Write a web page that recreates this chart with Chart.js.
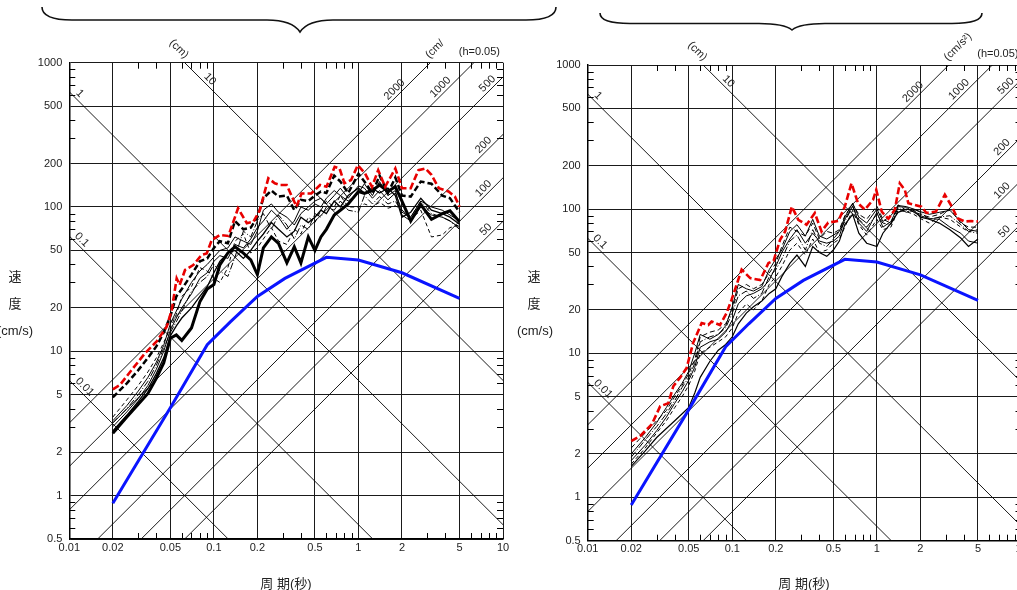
<!DOCTYPE html>
<html>
<head>
<meta charset="utf-8">
<title>速度応答スペクトル</title>
<script src="https://cdn.jsdelivr.net/npm/chart.js@4.4.1/dist/chart.umd.min.js"></script>
<style>
    html, body { margin: 0; padding: 0; background: #fff; }
    body { position: relative; width: 1017px; height: 590px; overflow: hidden; }
    canvas { position: absolute; top: 0; }
    #leftChart { left: 0; }
    #rightChart { left: 500px; }
    .title {
        position: absolute;
        transform: translate(-50%, -50%);
        font-family: "Liberation Sans", "Noto Sans CJK JP", sans-serif;
        font-size: 13px;
        color: #222;
        white-space: nowrap;
    }
</style>
</head>
<body>
<canvas id="leftChart" width="560" height="590"></canvas>
<canvas id="rightChart" width="540" height="590"></canvas>

<div class="title" style="left:15px;top:275px">速</div>
<div class="title" style="left:15px;top:302px">度</div>
<div class="title" style="left:15px;top:330px">(cm/s)</div>
<div class="title" style="left:286px;top:582px">周 期(秒)</div>

<div class="title" style="left:534px;top:275px">速</div>
<div class="title" style="left:534px;top:302px">度</div>
<div class="title" style="left:535px;top:330px">(cm/s)</div>
<div class="title" style="left:804px;top:582px">周 期(秒)</div>

<script>
// axis ticks
const xTicks = [0.01, 0.02, 0.05, 0.1, 0.2, 0.5, 1, 2, 5, 10];
const yTicks = [0.5, 1, 2, 5, 10, 20, 50, 100, 200, 500, 1000];

// tripartite reference lines: displacement (cm) and acceleration (cm/s2)
const dispLines = [0.01, 0.1, 1, 10];
const accLines = [50, 100, 200, 500, 1000, 2000];

// design spectrum (blue), same on both panels
const designT = [0.02, 0.05, 0.09, 0.13, 0.2, 0.31, 0.6, 1.0, 2.0, 5.0];
const designV = [0.885, 4.06, 11.1, 16.0, 24, 32.0, 44.8, 42.9, 35.0, 23.3];

// envelope (red dashed), left panel
const redLeftT = [0.02, 0.0224, 0.027, 0.0334, 0.0402, 0.0472, 0.0511, 0.0553, 0.058, 0.0632, 0.072, 0.0822,
    0.0892, 0.0967, 0.11, 0.126, 0.147, 0.169, 0.188, 0.208, 0.238, 0.264, 0.287, 0.319, 0.373, 0.404,
    0.472, 0.543, 0.601, 0.685, 0.74, 0.8, 0.89, 0.99, 1.11, 1.24, 1.37, 1.53, 1.8, 2.0, 2.3, 2.6, 2.9,
    3.2, 3.6, 4.2, 4.65, 5.0];
const redLeftV = [5.45, 5.84, 7.42, 9.69, 11.7, 14.8, 19.3, 32.0, 28.8, 36.6, 39.6, 46.5,
    47.7, 59.0, 64.0, 63.0, 98.0, 77.2, 79.2, 95.3, 158, 146, 142, 142, 100.5, 124,
    124, 142, 138, 190, 185, 146, 154, 195, 171, 138, 180, 138, 185, 135, 135, 180, 185,
    167, 135, 128, 118, 100.5];

// envelope (red dashed), right panel
const redRightT = [0.02, 0.023, 0.0277, 0.0317, 0.0361, 0.0391, 0.0434, 0.0483, 0.0536, 0.0614, 0.0682,
    0.0719, 0.0822, 0.0913, 0.099, 0.116, 0.133, 0.156, 0.178, 0.193, 0.214, 0.232, 0.258, 0.286, 0.326,
    0.372, 0.414, 0.46, 0.54, 0.6, 0.667, 0.74, 0.825, 0.94, 0.99, 1.08, 1.2, 1.33, 1.44, 1.56, 1.65,
    1.83, 2.03, 2.2, 2.56, 2.95, 3.3, 3.6, 4.05, 4.5, 5.0];
const redRightV = [2.45, 2.66, 3.2, 4.28, 4.5, 5.9, 6.74, 7.9, 11.8, 16.2, 15.7,
    16.6, 15.7, 19.0, 23.6, 38.0, 33.2, 32.2, 42.3, 43.8, 61.3, 70, 104, 84.3, 77.9,
    93.9, 70, 80.6, 82.6, 104, 151, 110, 99, 116, 136, 96, 85.7, 99, 151, 136, 110,
    107, 104, 94, 96, 126, 104, 86.6, 82, 82.6, 82];

// periods shared by the black records
const periods = [0.02, 0.025, 0.03, 0.035, 0.04, 0.045, 0.05, 0.055, 0.06,
    0.07, 0.08, 0.09, 0.1, 0.11, 0.125, 0.14, 0.16, 0.18,
    0.2, 0.22, 0.25, 0.28, 0.32, 0.36, 0.4, 0.45, 0.5,
    0.55, 0.6, 0.68, 0.75, 0.85, 1.0, 1.1, 1.25, 1.4,
    1.6, 1.8, 2.0, 2.3, 2.7, 3.2, 3.8, 4.3, 5.0];

// left panel records
const leftThickSolid = [2.7, 3.5, 4.3, 5.1, 6.5, 8.3, 12.3, 13.0, 11.9,
    14.5, 22, 27, 29, 39.6, 48, 53, 47.9, 43,
    34, 52, 62, 56, 41, 53, 41, 62, 50,
    62, 70, 88, 95, 105, 128, 124, 130, 142,
    128, 138, 110, 80, 104, 82, 90, 94, 79];
const leftThickDash = [4.8, 6.0, 7.4, 9.0, 10.8, 13.5, 17.5, 24, 27,
    34, 42, 44, 52, 58, 56, 80, 70, 72,
    85, 115, 130, 118, 120, 95, 112, 110, 120,
    128, 125, 165, 150, 125, 170, 150, 125, 165,
    125, 160, 120, 118, 150, 145, 120, 115, 92];
const leftThinA = [3.3, 4.2, 5.3, 6.6, 8.4, 11, 15.5, 19, 23,
    30, 36, 40, 45, 50, 52, 62, 58, 55,
    68, 95, 105, 92, 85, 75, 90, 100, 110,
    115, 105, 120, 135, 115, 140, 135, 115, 130,
    112, 125, 95, 85, 110, 100, 95, 88, 80];
const leftThinB = [3.0, 3.8, 4.7, 5.8, 7.5, 10, 14, 17, 20,
    25, 32, 35, 42, 46, 44, 55, 52, 60,
    72, 80, 95, 85, 70, 80, 100, 95, 105,
    100, 115, 130, 120, 110, 125, 145, 120, 150,
    120, 130, 88, 80, 100, 88, 85, 80, 72];
const leftDashed = [3.5, 4.6, 5.8, 7.2, 9.0, 11.5, 14.5, 18, 24,
    28, 38, 36, 32, 30, 38, 58, 65, 48,
    52, 60, 72, 58, 55, 70, 65, 85, 78,
    95, 110, 100, 120, 100, 100, 105, 100, 108,
    98, 102, 95, 82, 95, 62, 64, 72, 75];
const leftDashDot = [3.2, 4.0, 5.0, 6.2, 8.0, 10.5, 13.5, 16, 19,
    26, 30, 33, 40, 36, 33, 45, 68, 62,
    80, 90, 70, 88, 75, 60, 75, 70, 90,
    85, 100, 95, 110, 95, 92, 120, 105, 118,
    105, 110, 92, 85, 110, 90, 85, 80, 70];
const leftThinC = [2.8, 3.6, 4.5, 5.5, 7.0, 9.0, 12.8, 15, 17,
    20, 24, 28, 35, 42, 48, 50, 44, 50,
    58, 65, 78, 70, 62, 68, 85, 78, 85,
    95, 90, 110, 100, 120, 135, 125, 135, 125,
    135, 120, 85, 92, 115, 95, 90, 85, 76];

// right panel records
const rightSolidA = [1.64, 2.1, 2.6, 3.0, 3.4, 3.8, 4.2, 5.3, 6.8,
    8.8, 10.5, 11.5, 13, 16, 19, 21, 23, 26,
    28, 34, 42, 48, 40, 55, 50, 47, 52,
    60, 78, 92, 68, 58, 55, 68, 80, 95,
    100, 98, 88, 85, 80, 72, 63, 55, 62];
const rightDashA = [2.2, 2.8, 3.4, 4.0, 5.0, 6.0, 7.2, 9.0, 13,
    14, 14.5, 16, 20, 28, 30, 28, 30, 36,
    42, 55, 75, 70, 65, 80, 62, 70, 68,
    72, 90, 108, 92, 85, 105, 85, 80, 107,
    98, 96, 92, 88, 92, 100, 80, 75, 75];
const rightSolidB = [1.8, 2.3, 2.9, 3.6, 4.5, 5.4, 6.5, 8.0, 11,
    12, 12.5, 14, 17, 22, 25, 26, 28, 32,
    40, 50, 62, 72, 58, 68, 60, 58, 60,
    65, 85, 105, 80, 70, 95, 75, 82, 104,
    103, 95, 90, 86, 85, 75, 68, 60, 58];
const rightDashDot = [1.9, 2.5, 3.1, 3.8, 4.7, 5.8, 6.8, 8.5, 12,
    13, 13.5, 15, 19, 25, 27, 24, 26, 34,
    38, 45, 60, 66, 52, 72, 58, 55, 62,
    70, 82, 104, 85, 75, 92, 80, 78, 102,
    95, 100, 95, 85, 88, 90, 78, 70, 68];
const rightDashB = [1.7, 2.2, 2.8, 3.4, 4.2, 5.0, 6.0, 7.5, 10,
    11, 12, 13, 15, 19, 22, 20, 23, 30,
    34, 40, 52, 58, 48, 62, 50, 52, 58,
    62, 75, 98, 78, 66, 85, 72, 75, 98,
    96, 92, 86, 80, 88, 85, 75, 70, 72];
const rightSolidC = [2.0, 2.6, 3.3, 4.2, 5.2, 6.2, 7.5, 10, 13.5,
    12.5, 13.5, 15.5, 21, 30, 28, 27, 29, 38,
    45, 52, 70, 78, 65, 85, 65, 62, 66,
    70, 88, 110, 88, 80, 100, 82, 90, 106,
    104, 100, 96, 92, 95, 98, 82, 72, 70];

// where the labels of the reference lines sit (period along each line)
const dispLabelT = [0.012, 0.01145, 0.0111, 0.0883];
const accLabelT = [8.1, 7.8, 7.8, 8.3, 3.93, 1.89];

const minorSteps = [3, 4, 6, 7, 8, 9];
const FONT = '"Liberation Sans", Arial, sans-serif';

Chart.defaults.font.family = FONT;

function toPoints(t, v) {
    return t.map((p, i) => ({ x: p, y: v[i] }));
}

function drawBrace(ctx, b) {
    ctx.save();
    ctx.strokeStyle = '#111';
    ctx.lineWidth = 1.6;
    ctx.beginPath();
    ctx.moveTo(b.x0, b.yTop);
    ctx.quadraticCurveTo(b.x0, b.yMid, b.x0 + 30, b.yMid);
    ctx.lineTo(b.xm - 33, b.yMid);
    ctx.quadraticCurveTo(b.xm - 8, b.yMid, b.xm, b.yTip);
    ctx.quadraticCurveTo(b.xm + 8, b.yMid, b.xm + 33, b.yMid);
    ctx.lineTo(b.x1 - 30, b.yMid);
    ctx.quadraticCurveTo(b.x1, b.yMid, b.x1, b.yTop);
    ctx.stroke();
    ctx.restore();
}

function rotatedText(ctx, text, px, py, angle, align, baseline) {
    ctx.save();
    ctx.translate(px, py);
    ctx.rotate(angle);
    ctx.textAlign = align;
    ctx.textBaseline = baseline;
    ctx.fillText(text, 0, 0);
    ctx.restore();
}

const decorations = {
    id: 'decorations',
    afterDatasetsDraw(chart, args, opts) {
        const { ctx, chartArea: a, scales: { x, y } } = chart;
        ctx.save();

        // minor ticks on all four sides
        ctx.strokeStyle = '#000';
        ctx.lineWidth = 1;
        ctx.beginPath();
        [0.01, 0.1, 1].forEach(dec => {
            minorSteps.forEach(m => {
                const px = Math.round(x.getPixelForValue(m * dec)) + 0.5;
                if (px < a.left || px > a.right) return;
                ctx.moveTo(px, a.top); ctx.lineTo(px, a.top + 6);
                ctx.moveTo(px, a.bottom); ctx.lineTo(px, a.bottom - 6);
            });
        });
        [0.1, 1, 10, 100].forEach(dec => {
            minorSteps.forEach(m => {
                const v = m * dec;
                if (v < 0.5 || v > 1000) return;
                const py = Math.round(y.getPixelForValue(v)) + 0.5;
                ctx.moveTo(a.left, py); ctx.lineTo(a.left + 6, py);
                ctx.moveTo(a.right, py); ctx.lineTo(a.right - 6, py);
            });
        });
        ctx.stroke();

        // labels of the reference lines
        ctx.fillStyle = '#222';
        ctx.font = '11px ' + FONT;
        dispLines.forEach((d, i) => {
            const t = dispLabelT[i];
            rotatedText(ctx, String(d), x.getPixelForValue(t), y.getPixelForValue(2 * Math.PI * d / t) - 1,
                Math.PI / 4, 'center', 'bottom');
        });
        accLines.forEach((acc, i) => {
            const t = accLabelT[i];
            rotatedText(ctx, String(acc), x.getPixelForValue(t), y.getPixelForValue(acc * t / (2 * Math.PI)) - 1,
                -Math.PI / 4, 'center', 'bottom');
        });

        // unit labels outside the frame
        const dTop = x.getPixelForValue(2 * Math.PI * 10 / 1000);
        rotatedText(ctx, '(cm)', dTop + 2, a.top - 6, Math.PI / 4, 'right', 'middle');
        const aTop = x.getPixelForValue(1000 * 2 * Math.PI / 2000);
        rotatedText(ctx, opts.accUnit, aTop - 3, a.top - 6, -Math.PI / 4, 'left', 'middle');

        ctx.textAlign = 'right';
        ctx.textBaseline = 'middle';
        ctx.fillText('(h=0.05)', a.right - 3, a.top - 11);

        drawBrace(ctx, opts.brace);
        ctx.restore();
    }
};

function makeChart(canvasId, redT, redV, records, styles, padding, brace, accUnit) {
    const datasets = [
        { data: toPoints(redT, redV), borderColor: '#e80000', borderWidth: 2.6, borderDash: [7, 3] },
        { data: toPoints(designT, designV), borderColor: '#0a14ff', borderWidth: 3 }
    ];
    records.forEach((vals, i) => {
        datasets.push({
            data: toPoints(periods, vals),
            borderColor: '#000',
            borderWidth: styles[i].width,
            borderDash: styles[i].dash
        });
    });
    dispLines.forEach(d => {
        datasets.push({
            data: [{ x: 0.01, y: 2 * Math.PI * d / 0.01 }, { x: 10, y: 2 * Math.PI * d / 10 }],
            borderColor: '#000', borderWidth: 0.9
        });
    });
    accLines.forEach(acc => {
        datasets.push({
            data: [{ x: 0.01, y: acc * 0.01 / (2 * Math.PI) }, { x: 10, y: acc * 10 / (2 * Math.PI) }],
            borderColor: '#000', borderWidth: 0.9
        });
    });

    return new Chart(document.getElementById(canvasId), {
        type: 'line',
        data: { datasets: datasets },
        plugins: [decorations],
        options: {
            responsive: false,
            animation: false,
            events: [],
            layout: { padding: padding },
            elements: {
                point: { radius: 0 },
                line: { tension: 0, fill: false }
            },
            plugins: {
                legend: { display: false },
                tooltip: { enabled: false },
                decorations: { brace: brace, accUnit: accUnit }
            },
            scales: {
                x: {
                    type: 'logarithmic',
                    min: 0.01,
                    max: 10,
                    grid: { color: '#1a1a1a', lineWidth: 1, drawTicks: false },
                    border: { color: '#000', width: 1.5 },
                    ticks: {
                        autoSkip: false, maxRotation: 0, padding: 2, color: '#222',
                        font: { size: 11 },
                        callback: v => String(v)
                    },
                    afterBuildTicks: s => { s.ticks = xTicks.map(v => ({ value: v })); },
                    afterFit: s => { s.height = 25; }
                },
                y: {
                    type: 'logarithmic',
                    min: 0.5,
                    max: 1000,
                    grid: { color: '#1a1a1a', lineWidth: 1, drawTicks: false },
                    border: { color: '#000', width: 1.5 },
                    ticks: {
                        autoSkip: false, padding: 7, color: '#222',
                        font: { size: 11 },
                        callback: v => String(v)
                    },
                    afterBuildTicks: s => { s.ticks = yTicks.map(v => ({ value: v })); },
                    afterFit: s => { s.width = 40; }
                }
            }
        }
    });
}

document.addEventListener('DOMContentLoaded', function () {
    makeChart('leftChart', redLeftT, redLeftV,
        [leftThickSolid, leftThickDash, leftThinA, leftThinB, leftDashed, leftDashDot, leftThinC],
        [
            { width: 3, dash: [] },
            { width: 2.5, dash: [6, 3] },
            { width: 1, dash: [] },
            { width: 1, dash: [] },
            { width: 1, dash: [4, 3] },
            { width: 1, dash: [7, 2, 1, 2] },
            { width: 1.3, dash: [] }
        ],
        { left: 29.3, top: 62.7, right: 57, bottom: 26 },
        { x0: 42, x1: 556, xm: 300, yTop: 7, yMid: 20, yTip: 32 },
        '(cm/');

    makeChart('rightChart', redRightT, redRightV,
        [rightSolidA, rightDashA, rightSolidB, rightDashDot, rightDashB, rightSolidC],
        [
            { width: 1.2, dash: [] },
            { width: 1, dash: [5, 3] },
            { width: 1, dash: [] },
            { width: 1, dash: [7, 2, 1, 2] },
            { width: 1, dash: [4, 3] },
            { width: 1, dash: [] }
        ],
        { left: 47.7, top: 65, right: 18.5, bottom: 24.3 },
        { x0: 100, x1: 482, xm: 292, yTop: 13, yMid: 23.5, yTip: 30 },
        '(cm/s\u00B2)');
});
</script>
</body>
</html>
